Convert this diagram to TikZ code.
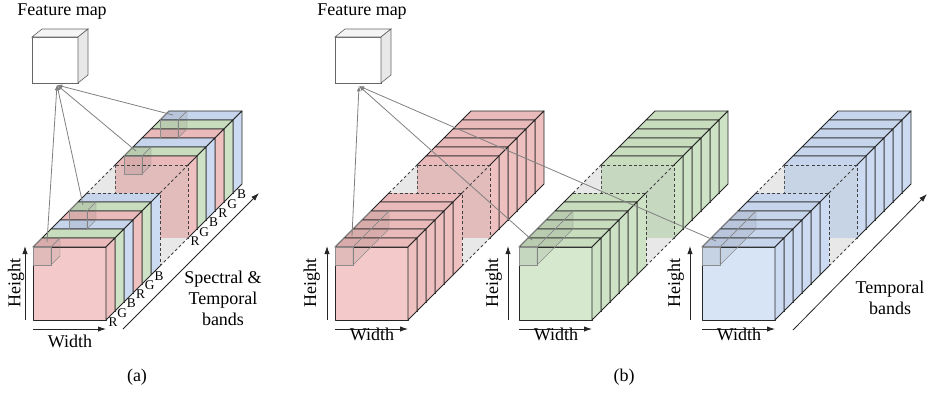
\documentclass[tikz,border=0pt]{standalone}
\usepackage{fontspec}
\setmainfont{Liberation Serif}
\usetikzlibrary{arrows.meta}

% slab colours: F = front face, T = top face, S = side face
\definecolor{rF}{RGB}{243,201,201}
\definecolor{rT}{RGB}{234,186,186}
\definecolor{rS}{RGB}{238,192,192}
\definecolor{gF}{RGB}{214,232,206}
\definecolor{gT}{RGB}{200,220,190}
\definecolor{gS}{RGB}{206,226,197}
\definecolor{bF}{RGB}{214,228,246}
\definecolor{bT}{RGB}{198,213,236}
\definecolor{bS}{RGB}{204,219,241}

\tikzset{
  sl/.style={draw=black!85, line width=0.7pt, line join=round},
  gl/.style={draw=black!75, line width=0.6pt, dashed, dash pattern=on 2.2pt off 1.8pt},
  ghostfill/.style={fill=black!9},
  kern/.style={draw=black!45, line width=0.3pt, fill=black, fill opacity=0.07},
  conn/.style={draw=black!50, line width=0.6pt, -{Latex[length=4pt,width=3pt]}},
  axis/.style={draw=black!85, line width=0.6pt, -{Latex[length=6pt,width=4pt]}},
  fmface/.style={draw=black!60, line width=0.5pt},
  band/.style={font=\fontsize{10}{12}\selectfont, inner sep=0pt}
}

% one thin slab: front face top-left (#1,#2), colour prefix #3
\newcommand\slabS[3]{%
  \filldraw[sl,fill=#3F] (#1,#2) rectangle ++(73,73);
  \filldraw[sl,fill=#3T] (#1,#2) -- ++(73,0) -- ++(9,-9) -- ++(-73,0) -- cycle;
  \filldraw[sl,fill=#3S] (#1+73,#2) -- ++(9,-9) -- ++(0,73) -- ++(-9,9) -- cycle;
}
% rear slab of a front stack: its back edges are dashed
\newcommand\slabRear[3]{%
  \fill[#3F] (#1,#2) rectangle ++(73,73);
  \fill[#3T] (#1,#2) -- ++(73,0) -- ++(9,-9) -- ++(-73,0) -- cycle;
  \fill[#3S] (#1+73,#2) -- ++(9,-9) -- ++(0,73) -- ++(-9,9) -- cycle;
  \draw[sl] (#1+9,#2-9) -- (#1,#2) -- (#1+73,#2) -- (#1+73,#2+73) -- (#1+82,#2+64);
  \draw[sl] (#1+73,#2) -- (#1+82,#2-9);
  \draw[gl] (#1+9,#2-9) -- (#1+82,#2-9) -- (#1+82,#2+64);
}
% leading slab of a rear stack: its front face is dashed
\newcommand\slabLead[3]{%
  \fill[#3F!93!black] (#1,#2) rectangle ++(73,73);
  \fill[#3T] (#1,#2) -- ++(73,0) -- ++(9,-9) -- ++(-73,0) -- cycle;
  \fill[#3S] (#1+73,#2) -- ++(9,-9) -- ++(0,73) -- ++(-9,9) -- cycle;
  \draw[sl] (#1,#2) -- (#1+9,#2-9) -- (#1+82,#2-9) -- (#1+82,#2+64) -- (#1+73,#2+73);
  \draw[sl] (#1+73,#2) -- (#1+82,#2-9);
  \draw[gl] (#1,#2) rectangle ++(73,73);
}
% stacks of six slabs, 9 px deep each
\newcommand\backstack[4]{%
  \foreach \i/\cc in {#3}{\slabS{#1+9*\i}{#2-9*\i}{\cc}}
  \slabLead{#1}{#2}{#4}}
\newcommand\frontstack[4]{%
  \slabRear{#1+45}{#2-45}{#3}
  \foreach \i/\cc in {#4}{\slabS{#1+9*\i}{#2-9*\i}{\cc}}}
% dashed gap between the two stacks of a group (front stack at #1,#2)
\newcommand\gapbox[2]{%
  \fill[ghostfill] (#1+54,#2-54) -- (#1+82,#2-82) -- (#1+82,#2-9) -- (#1+54,#2+19) -- cycle;
  \fill[ghostfill] (#1+54,#2+19) -- (#1+127,#2+19) -- (#1+155,#2-9) -- (#1+82,#2-9) -- cycle;
  \draw[gl] (#1+54,#2-54) -- (#1+82,#2-82);
  \draw[gl] (#1+127,#2-54) -- (#1+155,#2-82);
  \draw[gl] (#1+127,#2+19) -- (#1+155,#2-9);
  \draw[gl] (#1+54,#2+19) -- (#1+82,#2-9);
}
% translucent kernel: front top-left (#1,#2), depth #3
\newcommand\kernelbox[3]{%
  \filldraw[kern] (#1,#2) rectangle ++(18,18);
  \filldraw[kern] (#1,#2) -- ++(#3,-#3) -- ++(18,0) -- ++(-#3,#3) -- cycle;
  \filldraw[kern] (#1+18,#2) -- ++(#3,-#3) -- ++(0,18) -- ++(-#3,#3) -- cycle;
}
% feature map cube
\newcommand\fmapcube[2]{%
  \filldraw[fmface,fill=white] (#1,#2) rectangle ++(46,46);
  \filldraw[fmface,fill=black!4] (#1,#2) -- ++(46,0) -- ++(10,-8) -- ++(-46,0) -- cycle;
  \filldraw[fmface,fill=black!9] (#1+46,#2) -- ++(10,-8) -- ++(0,46) -- ++(-10,8) -- cycle;
}

\begin{document}
\begin{tikzpicture}[x=0.75pt,y=-0.75pt,font=\fontsize{13.5}{15.75}\selectfont]
\useasboundingbox (0,0) rectangle (929,394);

%% ---------------- (a) spectral & temporal stack ----------------
\fmapcube{32}{37}
\node (fmA) at (62,12) {Feature map};
\coordinate (apA) at (57,85);

\backstack{115}{165}{5/b,4/g,3/r,2/b,1/g}{r}
\gapbox{33}{247}
\kernelbox{124}{156}{9}
\kernelbox{160}{120}{9}
\frontstack{33}{247}{b}{4/g,3/r,2/b,1/g,0/r}
\kernelbox{33}{247}{9}
\kernelbox{69}{211}{9}

\coordinate (kA1) at (47,242);
\coordinate (kA2) at (83,205);
\coordinate (kA3) at (136,151);
\coordinate (kA4) at (173,115);
\foreach \k in {kA1,kA2,kA3,kA4} \draw[conn] (\k) -- (apA);

% band letters
\foreach \i/\t in {0/R,1/G,2/B,3/R,4/G,5/B}{
  \node[band] (la\i) at (113+9.2*\i,322-9.2*\i) {\t};
  \node[band] (lb\i) at (195+9.3*\i,241-9.3*\i) {\t};
}

\coordinate (hA0) at (25,320); \coordinate (hA1) at (25,246);
\draw[axis] (hA0) -- (hA1);
\node[rotate=90] (htA) at (16,283) {Height};
\coordinate (wA0) at (33,329); \coordinate (wA1) at (106,329);
\draw[axis] (wA0) -- (wA1);
\node (wdA) at (70,341) {Width};
\coordinate (sA0) at (123,329); \coordinate (sA1) at (259,193);
\draw[axis] (sA0) -- (sA1);
\node[align=center] (stA) at (223,298) {Spectral \&\\Temporal\\bands};
\node (capA) at (137,377) {(a)};

%% ---------------- (b) temporal stacks per colour ----------------
\fmapcube{335}{37}
\node (fmB) at (362,12) {Feature map};
\coordinate (apB) at (359,86);

% red group
\backstack{417}{165}{5/r,4/r,3/r,2/r,1/r}{r}
\gapbox{335}{247}
\frontstack{335}{247}{r}{4/r,3/r,2/r,1/r,0/r}
\kernelbox{335}{247}{36}
% green group
\backstack{601}{165}{5/g,4/g,3/g,2/g,1/g}{g}
\gapbox{519}{247}
\frontstack{519}{247}{g}{4/g,3/g,2/g,1/g,0/g}
\kernelbox{519}{247}{36}
% blue group
\backstack{784}{165}{5/b,4/b,3/b,2/b,1/b}{b}
\gapbox{702}{247}
\frontstack{702}{247}{b}{4/b,3/b,2/b,1/b,0/b}
\kernelbox{702}{247}{36}

\coordinate (kB1) at (352,236);
\coordinate (kB2) at (532,240);
\coordinate (kB3) at (716,241);
\foreach \k in {kB1,kB2,kB3} \draw[conn] (\k) -- (apB);

% axes of the three groups
\foreach \gx/\ha/\ht/\nm in {335/327/318/r,519/508/500/g,702/690/682/b}{
  \coordinate (h\nm0) at (\ha,320); \coordinate (h\nm1) at (\ha,246);
  \draw[axis] (h\nm0) -- (h\nm1);
  \node[rotate=90] (ht\nm) at (\ht,283) {Height};
  \coordinate (w\nm0) at (\gx,329); \coordinate (w\nm1) at (\gx+73,329);
  \draw[axis] (w\nm0) -- (w\nm1);
  \node (wd\nm) at (\gx+37,341) {Width};
}
\coordinate (sB0) at (793,330); \coordinate (sB1) at (927,194);
\draw[axis] (sB0) -- (sB1);
\node[align=center] (stB) at (890,298) {Temporal\\bands};
\node (capB) at (624,377) {(b)};
\end{tikzpicture}
\end{document}
